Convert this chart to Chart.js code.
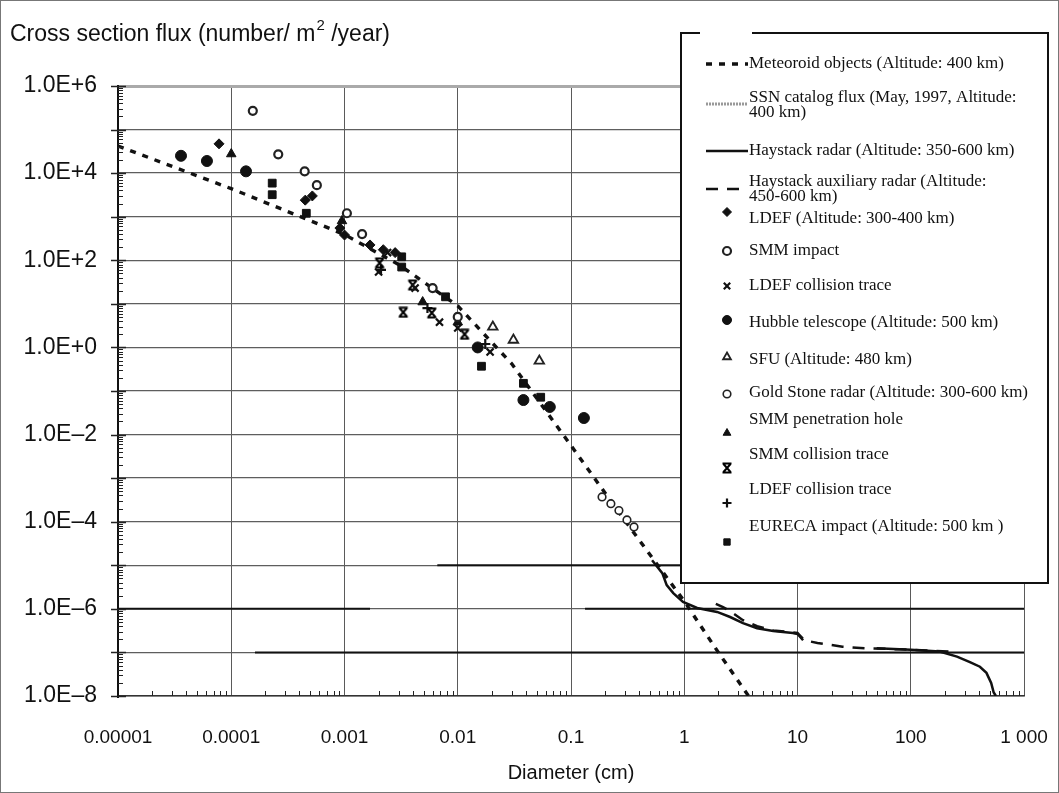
<!DOCTYPE html>
<html><head><meta charset="utf-8">
<script src="https://cdn.jsdelivr.net/npm/chart.js@4/dist/chart.umd.min.js"></script>
<style>html,body{margin:0;padding:0;background:#fff;}canvas{display:block;}</style>
</head><body>
<canvas id="c" width="1059" height="793"></canvas>
<script>
// ---------- data (diameter in cm, flux in number / m2 / year) ----------
const xTickExponents = [-5,-4,-3,-2,-1,0,1,2,3];
const xTickLabels = ['0.00001','0.0001','0.001','0.01','0.1','1','10','100','1 000'];
const yTickExponents = [6,5,4,3,2,1,0,-1,-2,-3,-4,-5,-6,-7,-8];
const yTickLabels = ['1.0E+6','','1.0E+4','','1.0E+2','','1.0E+0','','1.0E\u20132','','1.0E\u20134','','1.0E\u20136','','1.0E\u20138'];

const meteoroidD = [1e-5, 1e-4, 1e-3, 3e-3, 1e-2, 3e-2, 0.1, 0.3, 1, 2, 3.7];
const meteoroidF = [4.2e4, 4.4e3, 3.9e2, 8e1, 9, 0.42, 5.6e-3, 1.05e-4, 1.5e-6, 1.0e-7, 1e-8];

const ssnD = [];
const ssnF = [];

const haystackD = [0.52,0.64,0.70,0.80,0.975,1.3,1.95,2.54,3.3,4.4,6.1,9.1,10,11.2,11.3,50,100,180,256,333,408,466,513,540,565];
const haystackF = [1.3e-5,6.6e-6,3.5e-6,2.3e-6,1.45e-6,1.05e-6,8.5e-7,6.5e-7,4.7e-7,3.6e-7,3.1e-7,2.8e-7,2.65e-7,1.9e-7,null,1.25e-7,1.15e-7,1.05e-7,8e-8,6e-8,4.7e-8,3.4e-8,2e-8,1.2e-8,1e-8];

const auxD = [1.9,2.2,2.6,3.3,4.4,6.1,10,11.5,15,25,40,80,150,220];
const auxF = [1.3e-6,1.1e-6,8.5e-7,5.5e-7,4e-7,3.2e-7,2.8e-7,1.9e-7,1.65e-7,1.35e-7,1.25e-7,1.18e-7,1.1e-7,1.05e-7];

const ldefD = [7.8e-5, 4.5e-4, 5.2e-4, 9.1e-4, 1.0e-3, 1.68e-3, 2.2e-3, 2.8e-3];
const ldefF = [4.7e4, 2.4e3, 3.0e3, 550, 380, 225, 175, 150];

const smmImpactD = [1.55e-4, 2.6e-4, 4.45e-4, 5.7e-4, 1.05e-3, 1.43e-3, 6.0e-3, 1.0e-2];
const smmImpactF = [2.7e5, 2.7e4, 1.1e4, 5.3e3, 1.2e3, 400, 23, 5];

const ldefCollD = [2.4e-3, 2.0e-3, 4.2e-3, 6.9e-3, 1.0e-2, 1.93e-2];
const ldefCollF = [150, 54, 23, 3.8, 2.8, 0.79];

const hubbleD = [3.6e-5, 6.1e-5, 1.35e-4, 1.5e-2, 3.8e-2, 6.5e-2, 0.13];
const hubbleF = [2.5e4, 1.9e4, 1.1e4, 1.0, 0.062, 0.043, 0.024];

const sfuD = [2.04e-2, 3.1e-2, 5.25e-2];
const sfuF = [2.95, 1.48, 0.49];

const goldStoneD = [0.188, 0.225, 0.265, 0.312, 0.36];
const goldStoneF = [3.7e-4, 2.6e-4, 1.8e-4, 1.1e-4, 7.6e-5];

const smmPenD = [1.0e-4, 9.5e-4, 4.9e-3, 1.0e-2];
const smmPenF = [2.75e4, 800, 11, 3.8];

const smmCollD = [2.04e-3, 4.0e-3, 3.3e-3, 5.9e-3, 1.15e-2];
const smmCollF = [87, 27, 6.4, 6.2, 2.0];

const ldefPlusD = [5.4e-3, 2.1e-3, 1.75e-2];
const ldefPlusF = [8, 60, 1.2];

const eurecaD = [2.3e-4, 2.3e-4, 4.6e-4, 3.2e-3, 3.2e-3, 7.8e-3, 1.62e-2, 3.8e-2, 5.4e-2];
const eurecaF = [5.9e3, 3.2e3, 1.2e3, 120, 70, 14.5, 0.37, 0.15, 0.072];

// dark (heavily printed) grid rules seen in the original
const darkRuleLevel = [1e-5, 1e-6, 1e-6, 1e-7];
const darkRuleFrom  = [6.6e-3, 1e-5, 0.133, 1.62e-4];
const darkRuleTo    = [1e3, 1.68e-3, 1e3, 1e3];

// ---------- helpers ----------
const pts = (D, F) => D.map((d, i) => ({x: d, y: F[i]}));

function hourglass() {
  const c = document.createElement('canvas'); c.width = 12; c.height = 12;
  const g = c.getContext('2d'); g.strokeStyle = '#000'; g.lineWidth = 2;
  g.beginPath();
  g.moveTo(1.5, 1.5); g.lineTo(10.5, 1.5); g.moveTo(1.5, 10.5); g.lineTo(10.5, 10.5);
  g.moveTo(2.5, 2); g.lineTo(9.5, 10); g.moveTo(9.5, 2); g.lineTo(2.5, 10);
  g.stroke();
  return c;
}
const HOURGLASS = hourglass();

const lineBase = {type: 'line', showLine: true, pointRadius: 0, fill: false, tension: 0, spanGaps: false};
const ptBase = {type: 'line', showLine: false, pointHoverRadius: 5};

const datasets = [
  Object.assign({}, lineBase, {label: 'Meteoroid objects (Altitude: 400 km)', data: pts(meteoroidD, meteoroidF),
    borderColor: '#111', borderWidth: 3.4, borderDash: [6, 7], order: 5}),
  Object.assign({}, lineBase, {label: 'SSN catalog flux (May, 1997, Altitude: 400 km)', data: pts(ssnD, ssnF),
    borderColor: '#999', borderWidth: 3, borderDash: [2, 1], order: 5}),
  Object.assign({}, lineBase, {label: 'Haystack radar (Altitude: 350-600 km)', data: pts(haystackD, haystackF),
    borderColor: '#111', borderWidth: 2.5, order: 5}),
  Object.assign({}, lineBase, {label: 'Haystack auxiliary radar (Altitude: 450-600 km)', data: pts(auxD, auxF),
    borderColor: '#111', borderWidth: 2.5, borderDash: [12, 9], order: 5}),
  Object.assign({}, ptBase, {label: 'LDEF (Altitude: 300-400 km)', data: pts(ldefD, ldefF),
    pointStyle: 'rectRot', pointRadius: 5, backgroundColor: '#111', borderColor: '#111', borderWidth: 1, order: 1}),
  Object.assign({}, ptBase, {label: 'SMM impact', data: pts(smmImpactD, smmImpactF),
    pointStyle: 'circle', pointRadius: 4, backgroundColor: '#fff', borderColor: '#222', borderWidth: 2.2, order: 1}),
  Object.assign({}, ptBase, {label: 'LDEF collision trace', data: pts(ldefCollD, ldefCollF),
    pointStyle: 'crossRot', pointRadius: 5, backgroundColor: '#111', borderColor: '#111', borderWidth: 2.2, order: 1}),
  Object.assign({}, ptBase, {label: 'Hubble telescope (Altitude: 500 km)', data: pts(hubbleD, hubbleF),
    pointStyle: 'circle', pointRadius: 5.5, backgroundColor: '#111', borderColor: '#111', borderWidth: 1, order: 1}),
  Object.assign({}, ptBase, {label: 'SFU (Altitude: 480 km)', data: pts(sfuD, sfuF),
    pointStyle: 'triangle', pointRadius: 5.5, backgroundColor: '#fff', borderColor: '#222', borderWidth: 1.8, order: 1}),
  Object.assign({}, ptBase, {label: 'Gold Stone radar (Altitude: 300-600 km)', data: pts(goldStoneD, goldStoneF),
    pointStyle: 'circle', pointRadius: 3.8, backgroundColor: '#fff', borderColor: '#222', borderWidth: 1.6, order: 1}),
  Object.assign({}, ptBase, {label: 'SMM penetration hole', data: pts(smmPenD, smmPenF),
    pointStyle: 'triangle', pointRadius: 5.5, backgroundColor: '#111', borderColor: '#111', borderWidth: 1, order: 1}),
  Object.assign({}, ptBase, {label: 'SMM collision trace', data: pts(smmCollD, smmCollF),
    pointStyle: HOURGLASS, pointRadius: 6, backgroundColor: '#111', borderColor: '#111', borderWidth: 1, order: 1}),
  Object.assign({}, ptBase, {label: 'LDEF collision trace', data: pts(ldefPlusD, ldefPlusF),
    pointStyle: 'cross', pointRadius: 5, backgroundColor: '#111', borderColor: '#111', borderWidth: 2.2, order: 1}),
  Object.assign({}, ptBase, {label: 'EURECA impact (Altitude: 500 km )', data: pts(eurecaD, eurecaF),
    pointStyle: 'rect', pointRadius: 5.5, backgroundColor: '#111', borderColor: '#111', borderWidth: 1, order: 1})
];
darkRuleLevel.forEach((lvl, i) => {
  datasets.push(Object.assign({}, lineBase, {label: '', data: [{x: darkRuleFrom[i], y: lvl}, {x: darkRuleTo[i], y: lvl}],
    borderColor: '#111', borderWidth: 2, order: 10}));
});

// legend layout (text lines, text centre y, sample y)
const legendEntries = [
  {ds: 0, lines: ['Meteoroid objects (Altitude: 400 km)'], ty: 64, my: 64},
  {ds: 1, lines: ['SSN catalog flux (May, 1997, Altitude:', '400 km)'], ty: 98, my: 104},
  {ds: 2, lines: ['Haystack radar (Altitude: 350-600 km)'], ty: 151, my: 151},
  {ds: 3, lines: ['Haystack auxiliary radar (Altitude:', '450-600 km)'], ty: 182, my: 189},
  {ds: 4, lines: ['LDEF (Altitude: 300-400 km)'], ty: 219, my: 212},
  {ds: 5, lines: ['SMM impact'], ty: 251, my: 251},
  {ds: 6, lines: ['LDEF collision trace'], ty: 286, my: 286},
  {ds: 7, lines: ['Hubble telescope (Altitude: 500 km)'], ty: 323, my: 320},
  {ds: 8, lines: ['SFU (Altitude: 480 km)'], ty: 360, my: 357},
  {ds: 9, lines: ['Gold Stone radar (Altitude: 300-600 km)'], ty: 393, my: 394},
  {ds: 10, lines: ['SMM penetration hole'], ty: 420, my: 433},
  {ds: 11, lines: ['SMM collision trace'], ty: 455, my: 468},
  {ds: 12, lines: ['LDEF collision trace'], ty: 490, my: 503},
  {ds: 13, lines: ['EURECA impact (Altitude: 500 km )'], ty: 527, my: 542}
];

const decadeTicks = (exps) => exps.map(e => ({value: Math.pow(10, e), major: true}));

const minorTicksPlugin = {
  id: 'minorTicks',
  afterDatasetsDraw(chart) {
    const {ctx, chartArea: a, scales: {x, y}} = chart;
    ctx.save();
    ctx.strokeStyle = '#222'; ctx.lineWidth = 1;
    ctx.beginPath();
    for (let e = -5; e < 3; e++) for (let m = 2; m < 10; m++) {
      const px = Math.round(x.getPixelForValue(m * Math.pow(10, e))) + 0.5;
      ctx.moveTo(px, a.bottom); ctx.lineTo(px, a.bottom - 5);
    }
    for (let e = -8; e < 6; e++) for (let m = 2; m < 10; m++) {
      const py = Math.round(y.getPixelForValue(m * Math.pow(10, e))) + 0.5;
      ctx.moveTo(a.left, py); ctx.lineTo(a.left + 5, py);
    }
    ctx.stroke();
    ctx.lineWidth = 1.5;
    ctx.beginPath();
    for (let e = -8; e <= 6; e++) {
      const py = Math.round(y.getPixelForValue(Math.pow(10, e))) + 0.5;
      ctx.moveTo(a.left - 7, py); ctx.lineTo(a.left + 8, py);
    }
    ctx.stroke();
    ctx.restore();
  }
};

const boxLegendPlugin = {
  id: 'boxLegend',
  afterDraw(chart) {
    const ctx = chart.ctx;
    const L = 681, T = 33, R = 1048, B = 583;
    ctx.save();
    ctx.fillStyle = '#fff'; ctx.fillRect(L, T, R - L, B - T);
    ctx.strokeStyle = '#111'; ctx.lineWidth = 2; ctx.setLineDash([]);
    ctx.beginPath();
    ctx.moveTo(700, T); ctx.lineTo(L, T); ctx.lineTo(L, B); ctx.lineTo(R, B); ctx.lineTo(R, T); ctx.lineTo(752, T);
    ctx.stroke();
    ctx.font = "17px 'Liberation Serif', 'Times New Roman', serif";
    ctx.textBaseline = 'middle'; ctx.textAlign = 'left';
    legendEntries.forEach(en => {
      const ds = chart.data.datasets[en.ds];
      if (ds.showLine) {
        ctx.save();
        ctx.strokeStyle = ds.borderColor; ctx.lineWidth = ds.borderWidth;
        ctx.setLineDash(ds.borderDash || []);
        ctx.beginPath(); ctx.moveTo(706, en.my); ctx.lineTo(748, en.my); ctx.stroke();
        ctx.restore();
      } else {
        ctx.save();
        ctx.fillStyle = ds.backgroundColor; ctx.strokeStyle = ds.borderColor; ctx.lineWidth = ds.borderWidth;
        Chart.helpers.drawPoint(ctx, {pointStyle: ds.pointStyle, radius: Math.min(ds.pointRadius, 4.5), rotation: 0, borderWidth: ds.borderWidth}, 727, en.my);
        ctx.restore();
      }
      ctx.fillStyle = '#111';
      en.lines.forEach((t, k) => ctx.fillText(t, 749, en.ty + k * 15));
    });
    // title
    ctx.font = "23px 'Liberation Sans', Arial, sans-serif";
    ctx.textBaseline = 'alphabetic';
    const p1 = 'Cross section flux (number/ m';
    ctx.fillText(p1, 10, 41);
    let xx = 10 + ctx.measureText(p1).width + 1;
    ctx.font = "15px 'Liberation Sans', Arial, sans-serif";
    ctx.fillText('2', xx, 30);
    xx += ctx.measureText('2').width;
    ctx.font = "23px 'Liberation Sans', Arial, sans-serif";
    ctx.fillText(' /year)', xx, 41);
    // outer frame
    ctx.strokeStyle = '#777'; ctx.lineWidth = 1;
    ctx.strokeRect(0.5, 0.5, 1058, 792);
    ctx.restore();
  }
};

new Chart(document.getElementById('c'), {
  type: 'line',
  data: {datasets},
  options: {
    responsive: false, animation: false,
    layout: {padding: {top: 86, right: 35, left: 0, bottom: 0}},
    plugins: {legend: {display: false}, title: {display: false}, tooltip: {enabled: false}},
    scales: {
      x: {
        type: 'logarithmic', min: 1e-5, max: 1e3,
        afterBuildTicks: s => { s.ticks = decadeTicks(xTickExponents); },
        afterFit: s => { s.height = 97; s.paddingLeft = 0; s.paddingRight = 0; },
        grid: {color: '#5a5a5a', lineWidth: 1, drawTicks: false},
        border: {display: true, color: '#333', width: 1.5},
        ticks: {
          autoSkip: false, maxRotation: 0, padding: 30, color: '#111',
          font: {family: "'Liberation Sans Narrow', 'Liberation Sans', Arial, sans-serif", size: 19},
          callback: (v) => { const i = xTickExponents.indexOf(Math.round(Math.log10(v))); return i >= 0 ? xTickLabels[i] : ''; }
        },
        title: {display: true, text: 'Diameter (cm)', color: '#111', padding: {top: 4, bottom: 8},
          font: {family: "'Liberation Sans Narrow', 'Liberation Sans', Arial, sans-serif", size: 20}}
      },
      y: {
        type: 'logarithmic', min: 1e-8, max: 1e6,
        afterBuildTicks: s => { s.ticks = decadeTicks(yTickExponents); },
        afterFit: s => { s.width = 118; s.paddingTop = 0; s.paddingBottom = 0; },
        grid: {
          drawTicks: false,
          color: c => (c.tick && Math.abs(c.tick.value - 1e6) < 1) ? '#aaa' : '#5e5e5e',
          lineWidth: c => (c.tick && Math.abs(c.tick.value - 1e6) < 1) ? 3 : 1.3
        },
        border: {display: true, color: '#111', width: 2},
        ticks: {
          autoSkip: false, padding: 21, color: '#111',
          font: {family: "'Liberation Sans', Arial, sans-serif", size: 23},
          callback: (v) => { const i = yTickExponents.indexOf(Math.round(Math.log10(v))); return i >= 0 ? yTickLabels[i] : ''; }
        }
      }
    }
  },
  plugins: [minorTicksPlugin, boxLegendPlugin]
});
</script>
</body></html>
